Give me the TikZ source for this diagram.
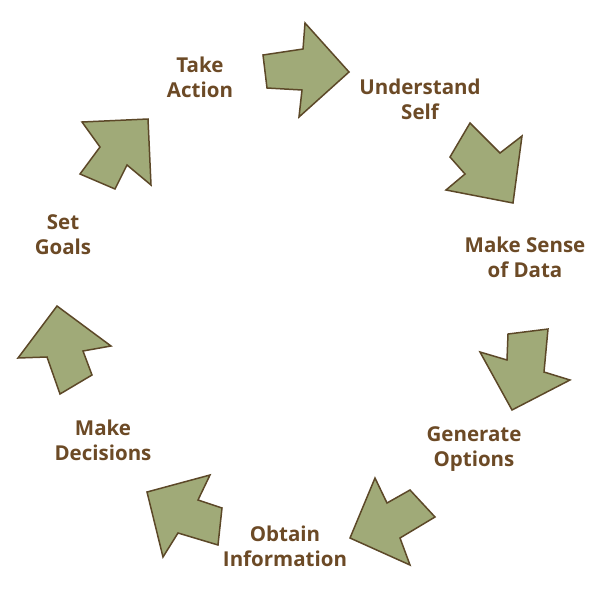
\documentclass[tikz,border=0pt]{standalone}
\usepackage{fontspec}
\setmainfont[Ligatures=NoCommon]{Open Sans}
\definecolor{arrowfill}{RGB}{160,170,120}
\definecolor{arrowline}{RGB}{92,72,40}
\definecolor{labelbrown}{RGB}{108,74,38}
\begin{document}
\begin{tikzpicture}[x=1pt,y=-1pt,
  blockarrow/.style={fill=arrowfill,draw=arrowline,line width=1.5pt,line join=miter},
  steplabel/.style={text=labelbrown,font=\fontsize{20.5}{25}\selectfont\bfseries,align=center,inner sep=0pt}]
\useasboundingbox (0,0) rectangle (600,600);
% arrows
\draw[blockarrow] (263,55) -- (303,49) -- (305,23) -- (349,72) -- (299,117) -- (302,90) -- (267,88) -- cycle;
\draw[blockarrow] (470,123) -- (500,153) -- (522,136) -- (513,203) -- (446,190) -- (465,174) -- (450,157) -- cycle;
\draw[blockarrow] (508,334) -- (548,329) -- (544,372) -- (570,380) -- (512,410) -- (480,352) -- (507,360) -- cycle;
\draw[blockarrow] (375,478) -- (387,503) -- (410,490) -- (435,517) -- (400,538) -- (410,565) -- (350,538) -- cycle;
\draw[blockarrow] (147,492) -- (210,475) -- (198,500) -- (222,508) -- (218,545) -- (178,533) -- (163,557) -- cycle;
\draw[blockarrow] (57,306) -- (111,346) -- (83,351) -- (92,375) -- (60,394) -- (47,357) -- (18,358) -- cycle;
\draw[blockarrow] (148,119) -- (151,185) -- (127,165) -- (115,189) -- (80,174) -- (100,147) -- (82,122) -- cycle;
% labels
\node[steplabel] (action) at (200,77) {Take\\Action};
\node[steplabel] (self) at (420,99) {Understand\\Self};
\node[steplabel] (data) at (525,257) {Make Sense\\of Data};
\node[steplabel] (options) at (474,449) {Generate\\Options};
\node[steplabel] (info) at (285,546) {Obtain\\Information};
\node[steplabel] (decide) at (103,440) {Make\\Decisions};
\node[steplabel] (goals) at (63,235) {Set\\Goals};
\end{tikzpicture}
\end{document}
